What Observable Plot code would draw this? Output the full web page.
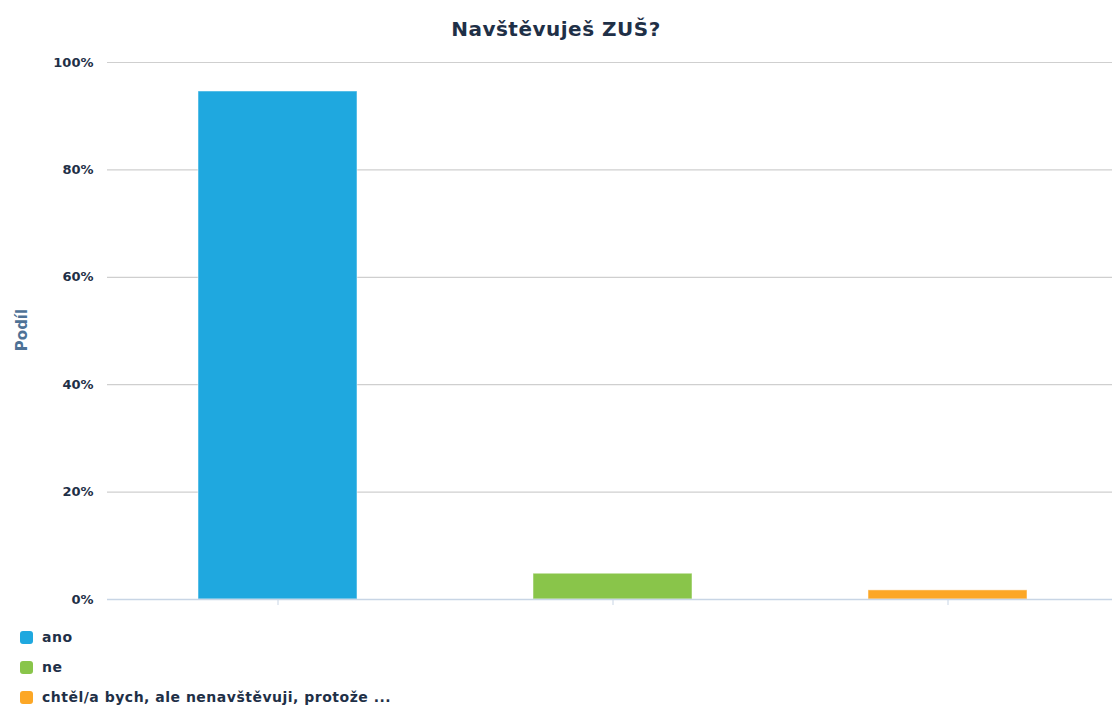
<!DOCTYPE html>
<html><head><meta charset="utf-8">
<script src="https://cdn.jsdelivr.net/npm/d3@7"></script>
<script src="https://cdn.jsdelivr.net/npm/@observablehq/plot@0.6"></script>
<style>
body{margin:0;background:#fff;font-family:"DejaVu Sans",sans-serif;}
#wrap{position:relative;width:1112px;height:709px;}
#title{height:50px;line-height:58px;text-align:center;font-weight:700;font-size:20px;color:#1f3047;letter-spacing:0.5px;}
#ylab{position:absolute;left:8px;top:330px;transform:translate(0,-50%) rotate(-90deg);transform-origin:center;font-weight:700;font-size:15px;color:#4e7296;width:50px;text-align:center;margin-left:-11px;}
#legend{position:absolute;left:20px;top:622px;}
.li{display:flex;align-items:center;height:30px;font-weight:700;font-size:14px;color:#1f3047;letter-spacing:0.5px;}
.sw{width:13px;height:13px;border-radius:3px;margin-right:9px;}
</style></head>
<body><div id="wrap">
<div id="title">Navštěvuješ ZUŠ?</div>
<div id="chart"></div>
<div id="ylab">Podíl</div>
<div id="legend"></div>
</div>
<script>
const categories = ["ano", "ne", "chtěl/a bych, ale nenavštěvuji, protože ..."];
const shares = [0.946, 0.048, 0.017];
const colors = ["#1fa8df", "#89c54a", "#fca726"];
const yTicks = [0, 0.2, 0.4, 0.6, 0.8, 1.0];
const yTickLabels = ["0%", "20%", "40%", "60%", "80%", "100%"];

const data = categories.map((c, i) => ({cat: c, v: shares[i]}));

const plot = Plot.plot({
  width: 1112,
  height: 570,
  marginTop: 12,
  marginBottom: 21,
  marginLeft: 107,
  marginRight: 0,
  style: {fontFamily: "'DejaVu Sans', sans-serif", fontSize: "13px", color: "#1f3047"},
  x: {domain: categories, range: [110, 1115], paddingInner: 0.525, paddingOuter: 0.2625, axis: null},
  y: {domain: [0, 1], axis: null},
  color: {domain: categories, range: colors},
  marks: [
    Plot.ruleY(yTicks.filter(t => t > 0), {stroke: "#cfcfcf", strokeWidth: 1.2}),
    Plot.axisY({ticks: yTicks, tickFormat: (d) => yTickLabels[yTicks.indexOf(d)], tickSize: 0, tickPadding: 14, fontWeight: 700, fontSize: 13, label: null}),
    Plot.barY(data, {x: "cat", y: "v", fill: "cat", stroke: "#ffffff", strokeOpacity: 0.5, strokeWidth: 1}),
    Plot.ruleY([0], {stroke: "#c8d5e5", strokeWidth: 1.5}),
    Plot.axisX({tickSize: 6, stroke: "#c8d5e5", tickFormat: () => "", label: null})
  ]
});
document.getElementById("chart").appendChild(plot);

const lg = document.getElementById("legend");
categories.forEach((c, i) => {
  const row = document.createElement("div");
  row.className = "li";
  row.innerHTML = `<span class="sw" style="background:${colors[i]}"></span><span>${c}</span>`;
  lg.appendChild(row);
});
</script>
</body></html>
